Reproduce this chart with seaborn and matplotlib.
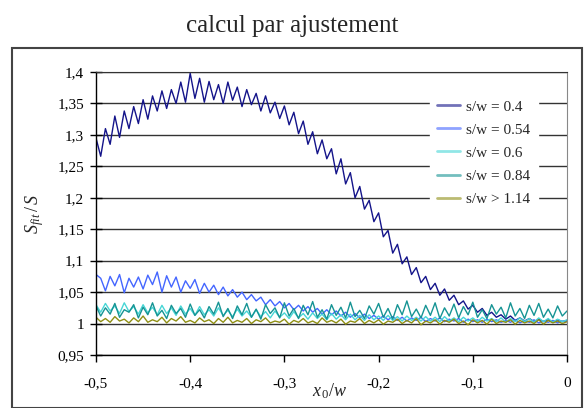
import numpy as np
import pandas as pd
import seaborn as sns
import matplotlib.pyplot as plt
from matplotlib.patches import Rectangle
from matplotlib.ticker import FuncFormatter

# x0/w grid, step 0.005 from -0.5 to 0
x0_w = np.round(np.arange(-0.5, 0.0001, 0.005), 3)

labels = ["s/w = 0.4", "s/w = 0.54", "s/w = 0.6", "s/w = 0.84", "s/w > 1.14"]
colors = ["#14148a", "#4466ff", "#48d6d6", "#169494", "#8f8f14"]

sw_040 = [1.295, 1.266, 1.31, 1.285, 1.33, 1.296, 1.338, 1.31, 1.345, 1.318,
          1.356, 1.325, 1.362, 1.338, 1.37, 1.342, 1.372, 1.35, 1.384, 1.352,
          1.398, 1.358, 1.39, 1.352, 1.385, 1.356, 1.38, 1.35, 1.384, 1.355,
          1.376, 1.345, 1.372, 1.348, 1.366, 1.338, 1.362, 1.335, 1.352, 1.326,
          1.346, 1.316, 1.336, 1.302, 1.322, 1.285, 1.305, 1.27, 1.292, 1.262,
          1.278, 1.238, 1.262, 1.222, 1.24, 1.2, 1.218, 1.182, 1.196, 1.162,
          1.176, 1.138, 1.148, 1.112, 1.126, 1.095, 1.106, 1.078, 1.089, 1.065,
          1.075, 1.054, 1.064, 1.045, 1.055, 1.037, 1.045, 1.03, 1.036, 1.023,
          1.029, 1.018, 1.024, 1.013, 1.018, 1.01, 1.014, 1.007, 1.012, 1.005,
          1.009, 1.004, 1.008, 1.003, 1.007, 1.003, 1.006, 1.002, 1.006, 1.003,
          1.005]

sw_054 = [1.078, 1.072, 1.052, 1.075, 1.06, 1.078, 1.049, 1.072, 1.058, 1.074,
          1.055, 1.077, 1.062, 1.082, 1.05, 1.076, 1.058, 1.074, 1.05, 1.068,
          1.056, 1.07, 1.048, 1.064, 1.05, 1.061, 1.046, 1.058, 1.044, 1.054,
          1.042, 1.05, 1.038, 1.046, 1.036, 1.042, 1.03, 1.038, 1.028, 1.035,
          1.025, 1.032, 1.022, 1.029, 1.02, 1.027, 1.018, 1.024, 1.015, 1.022,
          1.014, 1.02, 1.012, 1.018, 1.01, 1.016, 1.009, 1.015, 1.008, 1.013,
          1.007, 1.012, 1.006, 1.011, 1.005, 1.01, 1.004, 1.009, 1.005, 1.01,
          1.003, 1.008, 1.004, 1.009, 1.003, 1.007, 1.004, 1.008, 1.002, 1.007,
          1.003, 1.006, 1.002, 1.007, 1.003, 1.006, 1.002, 1.005, 1.002, 1.006,
          1.001, 1.005, 1.002, 1.006, 1.001, 1.004, 1.002, 1.005, 1.001, 1.004,
          1.003]

sw_060 = [1.03, 1.018, 1.032, 1.02, 1.028, 1.016, 1.033, 1.019, 1.027, 1.015,
          1.03, 1.017, 1.026, 1.014, 1.029, 1.016, 1.025, 1.013, 1.028, 1.015,
          1.024, 1.013, 1.027, 1.014, 1.022, 1.012, 1.025, 1.013, 1.021, 1.011,
          1.023, 1.012, 1.02, 1.01, 1.022, 1.011, 1.019, 1.009, 1.02, 1.01,
          1.017, 1.008, 1.019, 1.009, 1.016, 1.007, 1.017, 1.008, 1.015, 1.006,
          1.016, 1.007, 1.014, 1.006, 1.015, 1.006, 1.013, 1.005, 1.014, 1.006,
          1.012, 1.005, 1.013, 1.005, 1.011, 1.004, 1.012, 1.005, 1.01, 1.004,
          1.011, 1.004, 1.01, 1.003, 1.011, 1.004, 1.009, 1.003, 1.01, 1.004,
          1.009, 1.003, 1.01, 1.004, 1.008, 1.003, 1.009, 1.002, 1.008, 1.003,
          1.009, 1.003, 1.008, 1.002, 1.009, 1.003, 1.008, 1.002, 1.007, 1.003,
          1.006]

sw_084 = [1.028, 1.012, 1.025, 1.015, 1.032, 1.01, 1.022, 1.018, 1.03, 1.009,
          1.026, 1.014, 1.033, 1.012, 1.021, 1.008, 1.029, 1.016, 1.024, 1.01,
          1.031, 1.013, 1.022, 1.009, 1.027, 1.015, 1.034, 1.011, 1.024, 1.008,
          1.028, 1.014, 1.032, 1.01, 1.023, 1.007, 1.03, 1.016, 1.025, 1.009,
          1.033, 1.012, 1.024, 1.008, 1.029, 1.014, 1.035, 1.01, 1.022, 1.007,
          1.03, 1.013, 1.026, 1.009, 1.034, 1.011, 1.021, 1.008, 1.028, 1.015,
          1.032, 1.01, 1.024, 1.007, 1.03, 1.014, 1.036, 1.011, 1.023, 1.009,
          1.029, 1.013, 1.033, 1.008, 1.025, 1.012, 1.031, 1.009, 1.027, 1.014,
          1.034, 1.01, 1.022, 1.008, 1.03, 1.015, 1.026, 1.009, 1.033, 1.012,
          1.024, 1.008, 1.029, 1.013, 1.032, 1.01, 1.023, 1.009, 1.028, 1.012,
          1.02]

sw_114 = [1.01, 1.003, 1.008, 1.002, 1.011, 1.004, 1.007, 1.001, 1.009, 1.003,
          1.012, 1.002, 1.006, 1.003, 1.01, 1.001, 1.008, 1.004, 1.011, 1.002,
          1.005, 1.001, 1.009, 1.003, 1.006, 1.0, 1.008, 1.002, 1.01, 1.001,
          1.005, 1.002, 1.008, 1.0, 1.006, 1.003, 1.009, 1.001, 1.004, 1.002,
          1.007, 0.999, 1.005, 1.002, 1.008, 1.001, 1.004, 1.0, 1.009, 1.002,
          1.005, 1.001, 1.007, 0.999, 1.004, 1.002, 1.008, 1.0, 1.005, 1.001,
          1.006, 0.999, 1.004, 1.002, 1.007, 1.0, 1.005, 1.001, 1.008, 0.998,
          1.004, 1.001, 1.006, 0.999, 1.005, 1.002, 1.007, 1.0, 1.004, 0.998,
          1.006, 1.001, 1.005, 0.999, 1.007, 1.0, 1.004, 1.002, 1.006, 0.999,
          1.005, 1.001, 1.004, 1.0, 1.006, 0.999, 1.005, 1.001, 1.004, 1.0,
          1.003]

series = [sw_040, sw_054, sw_060, sw_084, sw_114]
df = pd.concat([pd.DataFrame({"x": x0_w, "ratio": vals, "serie": lab})
                for lab, vals in zip(labels, series)], ignore_index=True)

sns.set_style("white")
plt.rcParams['font.family'] = ['Liberation Serif', 'DejaVu Serif']
plt.rcParams['mathtext.fontset'] = 'custom'
plt.rcParams['mathtext.it'] = 'Liberation Serif:italic'
plt.rcParams['mathtext.rm'] = 'Liberation Serif'
plt.rcParams['mathtext.default'] = 'it'

fig = plt.figure(figsize=(5.84, 4.08), dpi=100)
W, H = 584, 408
ax = fig.add_axes([96 / W, 1 - 355 / H, (567 - 96) / W, (355 - 72) / H])

sns.lineplot(data=df, x="x", y="ratio", hue="serie", hue_order=labels,
             palette=dict(zip(labels, colors)), linewidth=1.0, ax=ax,
             legend=False, sort=False)

ax.set_xlim(-0.5, 0)
ax.set_ylim(0.95, 1.4)
ax.set_xticks(np.round(np.arange(-0.5, 0.001, 0.1), 1))
ax.set_yticks(np.round(np.arange(0.95, 1.401, 0.05), 2))


def comma(v, p):
    v = round(v, 2)
    if abs(v) < 1e-9:
        v = 0.0
    return ("%g" % v).replace(".", ",")


ax.xaxis.set_major_formatter(FuncFormatter(comma))
ax.yaxis.set_major_formatter(FuncFormatter(comma))

ax.yaxis.grid(True, color="#333333", linewidth=1.0)
ax.set_axisbelow(True)

for s in ["left", "bottom"]:
    ax.spines[s].set_color("black")
    ax.spines[s].set_linewidth(1.0)
ax.spines["top"].set_color("#333333")
ax.spines["right"].set_color("#888888")

ax.tick_params(axis="y", direction="inout", length=9, width=1, pad=4,
               labelsize=11, colors="black", left=True)
ax.tick_params(axis="x", direction="out", length=5, width=1, pad=11,
               labelsize=11, colors="black", bottom=True)

ax.set_xlabel("")
ax.set_ylabel(r"$S_{fit}\,/\,S$", fontsize=13, labelpad=8)

fig.text(330 / W, 1 - 391 / H, r"$x_{\,0}/w$", fontsize=13,
         ha="center", va="center")

leg = ax.legend(ax.lines[:5], labels, loc="center",
                bbox_to_anchor=(484 / W, 1 - 153 / H),
                bbox_transform=fig.transFigure, fontsize=11,
                frameon=True, fancybox=False, framealpha=1,
                facecolor="white", edgecolor="white",
                handlelength=1.5, handletextpad=0.4, labelspacing=0.62,
                borderpad=0.5)
for line in leg.get_lines():
    line.set_linewidth(2.0)
    line.set_alpha(0.6)

fig.suptitle("calcul par ajustement", y=1 - 26 / H, va="center", fontsize=18)

fig.patches.append(Rectangle((12 / W, 0), (582 - 12) / W, 1 - 48 / H,
                             transform=fig.transFigure, fill=False,
                             edgecolor="#444444", linewidth=1.5))

fig.savefig("out.png", dpi=100)
